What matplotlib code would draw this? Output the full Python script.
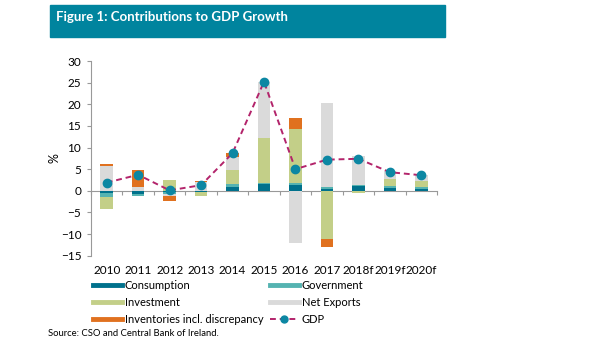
import numpy as np
import matplotlib.pyplot as plt
from matplotlib.lines import Line2D

plt.rcParams['font.family'] = ['Lato', 'DejaVu Sans']

years = ['2010', '2011', '2012', '2013', '2014', '2015', '2016', '2017',
         '2018f', '2019f', '2020f']

# contributions to growth, percentage points
consumption = [-0.5, -0.8, -0.2, -0.2, 0.9, 1.6, 1.3, 0.5, 1.0, 0.7, 0.45]
government = [-0.9, -0.3, -0.6, 0.0, 0.6, 0.1, 0.5, 0.3, 0.35, 0.5, 0.35]
investment = [-2.9, 0.0, 2.6, -0.9, 3.4, 10.5, 12.4, -11.25, -0.5, 1.6, 1.4]
net_exports = [5.7, 0.9, -0.4, 2.0, 2.8, 13.0, -12.1, 19.4, 6.65, 1.8, 1.4]
inventories = [0.4, 3.8, -1.2, 0.3, 1.1, 0.0, 2.6, -1.7, 0.0, 0.0, 0.0]
gdp = [1.9, 3.7, 0.1, 1.3, 8.7, 25.2, 5.0, 7.2, 7.4, 4.3, 3.6]

series = [
    ('Consumption', consumption, '#00718c'),
    ('Government', government, '#55b3b1'),
    ('Investment', investment, '#c3cf88'),
    ('Net Exports', net_exports, '#dadada'),
    ('Inventories incl. discrepancy', inventories, '#e0711f'),
]

fig = plt.figure(figsize=(6.14, 3.46), dpi=100)

# title banner
fig.patches.append(plt.Rectangle((50 / 614, 1 - 37 / 346), 395 / 614, 32 / 346,
                                 transform=fig.transFigure, color='#00849e', zorder=0))
fig.text(56 / 614, 1 - 17 / 346, 'Figure 1: Contributions to GDP Growth',
         color='white', fontsize=9.5, fontweight='bold', va='center', ha='left')

ax = fig.add_axes([91 / 614, 1 - 255.7 / 346, 346 / 614, 194.7 / 346])

x = np.arange(len(years))
pos = np.zeros(len(years))
neg = np.zeros(len(years))
for name, vals, col in series:
    v = np.array(vals)
    bottom = np.where(v >= 0, pos, neg)
    ax.bar(x, v, 0.4, bottom=bottom, color=col, zorder=2)
    pos += np.clip(v, 0, None)
    neg += np.clip(v, None, 0)

ax.plot(x, gdp, color='#b3246b', linestyle=(0, (3, 2)), linewidth=1.4,
        marker='o', markersize=6, markerfacecolor='#0c87a3',
        markeredgecolor='#0c87a3', zorder=3)

ax.set_xlim(-0.5, len(years) - 0.5)
ax.set_ylim(-15, 30)
ax.set_yticks(range(-15, 31, 5))
ax.set_xticks(x)
ax.set_xticklabels(years)
ax.tick_params(axis='x', length=0, pad=7, labelsize=8.5)
ax.tick_params(axis='y', length=3, color='#999999', labelsize=8.5, pad=4)
for s in ['top', 'right', 'bottom']:
    ax.spines[s].set_visible(False)
ax.spines['left'].set_color('#999999')
ax.set_ylabel('%', fontsize=9, labelpad=0)

# zero line with category separators
zero = ax.secondary_xaxis(1 / 3)
zero.set_xticks(np.arange(-0.5, len(years), 1.0))
zero.set_xticklabels([])
zero.tick_params(length=3, color='#999999')
zero.spines['bottom'].set_color('#999999')

handles = [
    Line2D([], [], color=series[0][2], linewidth=3.5),
    Line2D([], [], color=series[2][2], linewidth=3.5),
    Line2D([], [], color=series[4][2], linewidth=3.5),
    Line2D([], [], color=series[1][2], linewidth=3.5),
    Line2D([], [], color=series[3][2], linewidth=3.5),
    Line2D([], [], color='#b3246b', linestyle=(0, (3, 2)), linewidth=1.4,
           marker='o', markersize=5, markerfacecolor='#0c87a3',
           markeredgecolor='#0c87a3'),
]
labels = ['Consumption', 'Investment', 'Inventories incl. discrepancy',
          'Government', 'Net Exports', 'GDP']
fig.legend(handles, labels, loc='upper left', bbox_to_anchor=(93 / 614, 1 - 280 / 346),
           ncol=2, frameon=False, fontsize=8, handlelength=2.6, handletextpad=0.25,
           columnspacing=0.6, labelspacing=0.55, borderpad=0, borderaxespad=0)

fig.text(48 / 614, 1 - 334 / 346, 'Source: CSO and Central Bank of Ireland.',
         fontsize=6.8, va='center', ha='left')

fig.savefig('out.png', dpi=100)
